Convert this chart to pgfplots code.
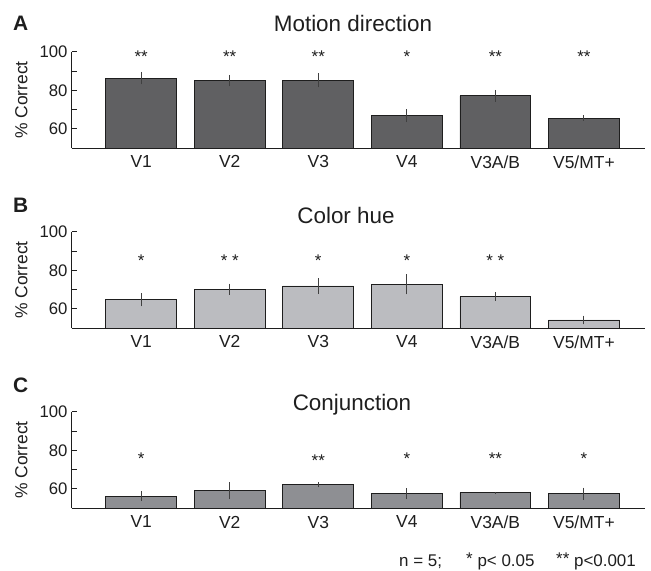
\documentclass[border=0pt]{standalone}
\usepackage{pgfplots}
\pgfplotsset{compat=1.18}
\usepackage{fontspec}
\setmainfont{Liberation Sans}
\definecolor{barA}{HTML}{606062}
\definecolor{barB}{HTML}{BBBCC0}
\definecolor{barC}{HTML}{8E8F93}
\definecolor{ink}{HTML}{1E1E1E}
\newcommand{\fs}[1]{\fontsize{#1}{#1}\selectfont}
\pgfplotsset{
  panel/.style={
    scale only axis, width=573.3bp, height=96.6bp,
    xmin=-0.785, xmax=5.69, ymin=50, ymax=100,
    axis x line*=bottom, axis y line*=left,
    axis line style={-, line width=1.1bp, color=ink},
    xtick={0,...,5}, xticklabels={V1,V2,V3,V4,V3A/B,V5/MT+},
    xtick style={draw=none},
    ytick={60,80,100}, minor ytick={70,90},
    tick align=inside, major tick length=5bp, minor tick length=5bp,
    ytick style={line width=1bp, color=ink},
    /pgf/number format/assume math mode=true,
    yticklabel style={font=\fs{16.8}, color=ink, inner sep=1bp, xshift=-3bp},
    xticklabel style={font=\fs{17.5}, color=ink, yshift=-4bp},
    ylabel={\% Correct},
    ylabel style={font=\fs{17.5}, color=ink, at={(axis description cs:-0.0876,0.5)}, anchor=center, rotate=0},
  },
  bars/.style={ybar, bar width=0.8, draw=ink, line width=0.9bp, fill=#1,
    error bars/.cd, y dir=both, y explicit, error mark=none,
    error bar style={line width=1.1bp, color=ink!85}},
  stars/.style={only marks, mark options={draw=none, fill=none},
    nodes near coords, point meta=explicit symbolic,
    every node near coord/.style={anchor=center, font=\fs{17}, color=ink}},
}
\begin{document}
\begin{tikzpicture}
\path[use as bounding box] (0,0) rectangle (651bp,-571bp);
% Panel A
\begin{axis}[panel, at={(71.7bp,-148.3bp)}, anchor=south west]
\addplot[bars=barA] coordinates {
 (0,86.3) +- (0,3.2)
 (1,85.0) +- (0,3.0)
 (2,85.2) +- (0,3.6)
 (3,66.8) +- (0,3.3)
 (4,77.2) +- (0,3.0)
 (5,65.6) +- (0,1.4)
};
\addplot[stars] coordinates {
 (0,97.3)[**] (1,97.3)[**] (2,97.3)[**] (3,97.3)[*] (4,97.3)[**] (5,97.3)[**]
};
\end{axis}
% Panel B
\begin{axis}[panel, at={(71.7bp,-328.3bp)}, anchor=south west]
\addplot[bars=barB] coordinates {
 (0,64.8) +- (0,3.4)
 (1,70.2) +- (0,2.9)
 (2,71.9) +- (0,4.0)
 (3,72.8) +- (0,5.2)
 (4,66.4) +- (0,2.2)
 (5,54.3) +- (0,2.3)
};
\addplot[stars] coordinates {
 (0,84.9)[*] (1,84.9)[* *] (2,84.9)[*] (3,84.9)[*] (4,84.9)[* *]
};
\end{axis}
% Panel C
\begin{axis}[panel, at={(71.7bp,-508.3bp)}, anchor=south west]
\addplot[bars=barC] coordinates {
 (0,56.3) +- (0,2.4)
 (1,59.1) +- (0,4.4)
 (2,62.1) +- (0,1.3)
 (3,57.6) +- (0,2.8)
 (4,58.1) +- (0,0.4)
 (5,57.6) +- (0,3.1)
};
\addplot[stars] coordinates {
 (0,75.7)[*] (2,74.8)[**] (3,75.7)[*] (4,75.7)[**] (5,75.7)[*]
};
\end{axis}
% Panel letters and titles
\node[anchor=base west, inner sep=0, font=\fs{21}\bfseries, color=ink] at (13bp,-30bp) {A};
\node[anchor=base west, inner sep=0, font=\fs{21}\bfseries, color=ink] at (13bp,-212bp) {B};
\node[anchor=base west, inner sep=0, font=\fs{21}\bfseries, color=ink] at (13bp,-392bp) {C};
\node[anchor=base, inner sep=0, font=\fs{22.5}, color=ink] at (353bp,-31.7bp) {Motion direction};
\node[anchor=base, inner sep=0, font=\fs{22.5}, color=ink] at (346bp,-223.5bp) {Color hue};
\node[anchor=base, inner sep=0, font=\fs{22.5}, color=ink] at (352bp,-410.5bp) {Conjunction};
% Footer
\node[anchor=base west, inner sep=0, font=\fs{17}, color=ink] at (399bp,-566.7bp) {n = 5;};
\node[anchor=base west, inner sep=0, font=\fs{17}, color=ink] at (466bp,-566.7bp) {\raisebox{2bp}{*} p< 0.05};
\node[anchor=base west, inner sep=0, font=\fs{17}, color=ink] at (556bp,-566.7bp) {\raisebox{2bp}{**} p<0.001};
\end{tikzpicture}
\end{document}
